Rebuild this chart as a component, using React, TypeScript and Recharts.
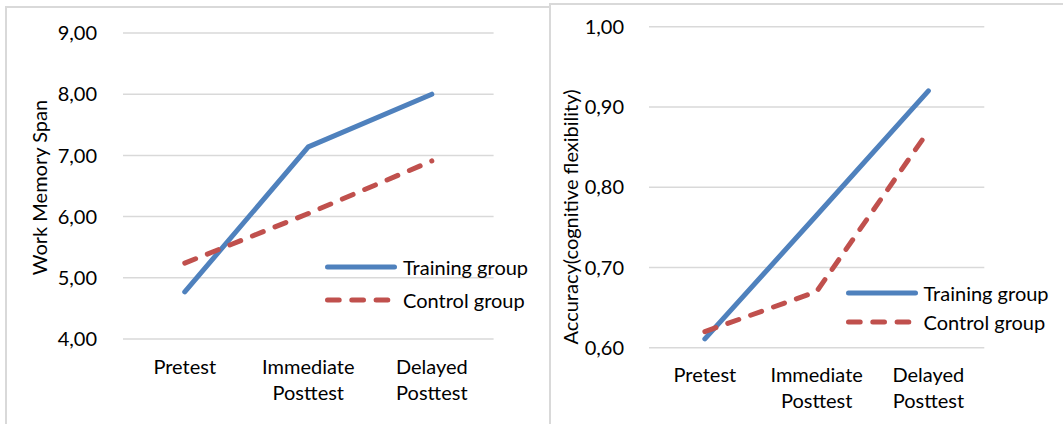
import React from 'react';
import { LineChart, Line, XAxis, YAxis, CartesianGrid, Legend } from 'recharts';

// categories on the x axis
const phases = ['Pretest', 'Immediate\nPosttest', 'Delayed\nPosttest'];
const seriesNames = ['Training group', 'Control group'];

// left chart: work memory span
const spanTraining = [4.77, 7.14, 8.0];
const spanControl = [5.24, 6.05, 6.91];
const spanTicks = [4, 5, 6, 7, 8, 9];

// right chart: accuracy (cognitive flexibility)
const accTraining = [0.611, 0.765, 0.92];
const accControl = [0.62, 0.67, 0.87];
const accTicks = [0.6, 0.7, 0.8, 0.9, 1.0];

const BLUE = '#4f81bd';
const RED = '#c0504d';
const GRID = '#d9d9d9';
const FONT = 'Lato, "Open Sans", sans-serif';
const FONT_SIZE = 20;
const LINE_W = 5;
const DASH = '11.7 12.6';

const seriesStyle = [
    { key: 'training', name: seriesNames[0], color: BLUE, dash: undefined as string | undefined },
    { key: 'control', name: seriesNames[1], color: RED, dash: DASH },
];

const fmt = (v: number) => v.toFixed(2).replace('.', ',');

function PhaseTick({ x, y, payload }: any) {
    const lines = String(payload.value).split('\n');
    return (
        <text x={x} y={y} textAnchor="middle" fill="#000" fontSize={FONT_SIZE} fontFamily={FONT}>
            {lines.map((l, i) => (
                <tspan key={i} x={x} dy={i === 0 ? 34.5 : 26}>{l}</tspan>
            ))}
        </text>
    );
}

function makeLegend(rowH: number) {
    return () => (
        <div style={{ fontFamily: FONT, fontSize: FONT_SIZE, color: '#000' }}>
            {seriesStyle.map(s => (
                <div key={s.key} style={{ display: 'flex', alignItems: 'center', height: rowH, whiteSpace: 'nowrap' }}>
                    <svg width={72} height={10} style={{ display: 'block' }}>
                        <line x1={2.5} y1={5} x2={69.5} y2={5} stroke={s.color} strokeWidth={LINE_W}
                            strokeLinecap="round" strokeDasharray={s.dash} />
                    </svg>
                    <span style={{ marginLeft: 6, lineHeight: 1 }}>{s.name}</span>
                </div>
            ))}
        </div>
    );
}

interface PanelProps {
    training: number[];
    control: number[];
    ticks: number[];
    title: string;
    left: number;
    width: number;
    plotLeft: number;
    plotRight: number;
    plotTop: number;
    plotBottom: number;
    tickGap: number;
    titleX: number;
    titleY: number;
    legendLeft: number;
    legendTop: number;
    legendRow: number;
}

function Panel(p: PanelProps) {
    const height = 424;
    const data = phases.map((phase, i) => ({
        phase,
        training: p.training[i],
        control: p.control[i],
    }));
    const pad = (p.plotRight - p.plotLeft) / 6;
    return (
        <div style={{ position: 'absolute', left: p.left, top: 0 }}>
            <LineChart
                width={p.width}
                height={height}
                data={data}
                margin={{ top: p.plotTop, right: p.width - p.plotRight, bottom: 0, left: 0 }}
            >
                <CartesianGrid vertical={false} stroke={GRID} strokeWidth={1.5} />
                <XAxis
                    dataKey="phase"
                    axisLine={false}
                    tickLine={false}
                    tickSize={0}
                    tickMargin={0}
                    interval={0}
                    height={height - p.plotBottom}
                    padding={{ left: pad, right: pad }}
                    tick={<PhaseTick />}
                />
                <YAxis
                    type="number"
                    domain={[p.ticks[0], p.ticks[p.ticks.length - 1]]}
                    ticks={p.ticks}
                    interval={0}
                    tickFormatter={fmt}
                    axisLine={false}
                    tickLine={false}
                    tickSize={0}
                    tickMargin={p.tickGap}
                    width={p.plotLeft}
                    tick={{ fill: '#000', fontSize: FONT_SIZE, fontFamily: FONT }}
                    label={() => (
                        <text
                            x={p.titleX}
                            y={p.titleY}
                            transform={`rotate(-90 ${p.titleX} ${p.titleY})`}
                            textAnchor="middle"
                            dominantBaseline="central"
                            fill="#000"
                            fontSize={FONT_SIZE}
                            fontFamily={FONT}
                        >
                            {p.title}
                        </text>
                    )}
                />
                <Legend
                    layout="vertical"
                    align="center"
                    verticalAlign="middle"
                    content={makeLegend(p.legendRow)}
                    wrapperStyle={{ left: p.legendLeft, top: p.legendTop, width: 230 }}
                />
                {seriesStyle.map(s => (
                    <Line
                        key={s.key}
                        type="linear"
                        dataKey={s.key}
                        name={s.name}
                        stroke={s.color}
                        strokeWidth={LINE_W}
                        strokeLinecap="round"
                        strokeDasharray={s.dash}
                        dot={false}
                        activeDot={false}
                        isAnimationActive={false}
                    />
                ))}
            </LineChart>
        </div>
    );
}

export default function App() {
    return (
        <div style={{ position: 'absolute', left: 0, top: 0, width: 1063, height: 424, background: '#fff', overflow: 'hidden' }}>
            <div style={{ position: 'absolute', left: 5, top: 6, width: 560, height: 440, border: `2px solid ${GRID}`, boxSizing: 'border-box' }} />
            <div style={{ position: 'absolute', left: 549, top: 3, width: 600, height: 440, border: `2px solid ${GRID}`, boxSizing: 'border-box', background: '#fff' }} />
            <Panel
                training={spanTraining}
                control={spanControl}
                ticks={spanTicks}
                title="Work Memory Span"
                left={0}
                width={549}
                plotLeft={123}
                plotRight={493.6}
                plotTop={33}
                plotBottom={339}
                tickGap={26}
                titleX={39}
                titleY={187.5}
                legendLeft={325}
                legendTop={251}
                legendRow={32.7}
            />
            <Panel
                training={accTraining}
                control={accControl}
                ticks={accTicks}
                title="Accuracy(cognitive flexibility)"
                left={550}
                width={513}
                plotLeft={99}
                plotRight={434.3}
                plotTop={26.7}
                plotBottom={347.7}
                tickGap={25}
                titleX={20}
                titleY={217}
                legendLeft={295.5}
                legendTop={278.2}
                legendRow={29}
            />
        </div>
    );
}
